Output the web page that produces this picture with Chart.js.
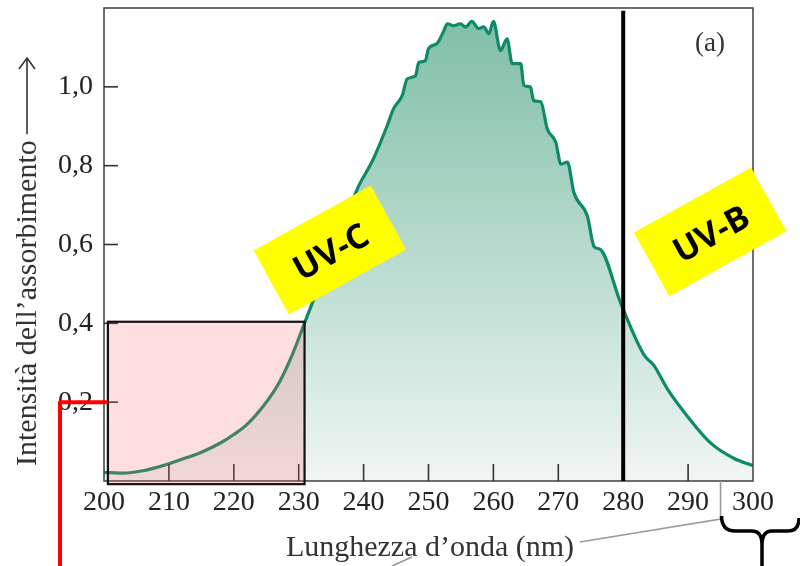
<!DOCTYPE html>
<html><head><meta charset="utf-8">
<script src="https://cdn.jsdelivr.net/npm/chart.js@4.4.0/dist/chart.umd.min.js"></script>
<style>html,body{margin:0;padding:0;background:#fff;}#c{display:block;}</style>
</head><body>
<canvas id="c" width="800" height="566"></canvas>
<script>
// ---- data ----
const wavelengths = [200,203,206,208,210,212,215,218,220,222,225,227,229,231,233,235,237,239,241.5,243.6,244.6,246.0,246.7,248.0,248.5,249.5,250.0,251.3,252.3,252.9,253.9,254.9,255.7,256.7,257.7,258.5,259.3,260.0,261.1,262.1,262.9,264.2,264.7,265.7,266.2,267.3,268.3,269.6,270.4,271.4,272.4,274.5,275.5,276.5,279.6,283.2,284.7,286.9,290.0,293.5,297.1,300];
const absorbance = [0.022,0.020,0.026,0.034,0.044,0.055,0.073,0.097,0.118,0.143,0.200,0.250,0.320,0.405,0.490,0.575,0.655,0.740,0.817,0.900,0.944,0.980,1.020,1.028,1.062,1.066,1.097,1.110,1.140,1.160,1.155,1.160,1.152,1.166,1.148,1.152,1.135,1.166,1.092,1.122,1.059,1.059,1.003,1.000,0.965,0.962,0.893,0.860,0.804,0.809,0.732,0.671,0.595,0.587,0.452,0.320,0.294,0.231,0.162,0.096,0.057,0.039];
const xTicks = [200,210,220,230,240,250,260,270,280,290,300];
const yTicks = [0.2,0.4,0.6,0.8,1.0];
const xTitle = 'Lunghezza d’onda (nm)';
const yTitle = 'Intensità dell’assorbimento';
const panelLabel = '(a)';
const bandLabels = ['UV-C','UV-B'];
const boundaryNm = 280;           // UV-C / UV-B boundary
const highlightNm = [200.6, 230.9];
const highlightVal = [-0.008, 0.404];
const markedValue = 0.2;
const braceNm = 295;

const serif = '"Liberation Serif", "DejaVu Serif", serif';

const deco = {
  id: 'deco',
  afterDraw(chart) {
    const ctx = chart.ctx, a = chart.chartArea;
    const xs = chart.scales.x, ys = chart.scales.y;
    ctx.save();
    // frame
    ctx.strokeStyle = '#4a4a4a'; ctx.lineWidth = 1.6;
    ctx.strokeRect(a.left, a.top, a.right - a.left, a.bottom - a.top);
    // inward ticks
    ctx.strokeStyle = '#333'; ctx.lineWidth = 1.6;
    xTicks.forEach(v => {
      if (v === xTicks[0] || v === xTicks[xTicks.length-1]) return;
      const px = xs.getPixelForValue(v);
      ctx.beginPath(); ctx.moveTo(px, a.bottom); ctx.lineTo(px, a.bottom - 17); ctx.stroke();
    });
    yTicks.forEach(v => {
      const py = ys.getPixelForValue(v);
      ctx.beginPath(); ctx.moveTo(a.left, py); ctx.lineTo(a.left + 14, py); ctx.stroke();
    });
    // pink highlight box
    const bx0 = xs.getPixelForValue(highlightNm[0]), bx1 = xs.getPixelForValue(highlightNm[1]);
    const by0 = ys.getPixelForValue(highlightVal[0]), by1 = ys.getPixelForValue(highlightVal[1]);
    ctx.fillStyle = 'rgba(250,110,110,0.22)';
    ctx.fillRect(bx0, by1, bx1 - bx0, by0 - by1);
    ctx.strokeStyle = '#111'; ctx.lineWidth = 2.2;
    ctx.strokeRect(bx0, by1, bx1 - bx0, by0 - by1);
    // boundary line at 280
    const lx = xs.getPixelForValue(boundaryNm);
    ctx.strokeStyle = '#000'; ctx.lineWidth = 4;
    ctx.beginPath(); ctx.moveTo(lx, ys.getPixelForValue(1.193)); ctx.lineTo(lx, a.bottom); ctx.stroke();
    // band labels
    const bands = [
      {t: bandLabels[0], nm: 234.8, v: 0.586},
      {t: bandLabels[1], nm: 293.4, v: 0.632}
    ];
    bands.forEach(b => {
      ctx.save();
      ctx.translate(xs.getPixelForValue(b.nm), ys.getPixelForValue(b.v));
      ctx.rotate(-29 * Math.PI / 180);
      ctx.fillStyle = '#ffff00';
      ctx.fillRect(-67, -36.5, 134, 73);
      ctx.fillStyle = '#000';
      ctx.font = 'bold 34px "Open Sans", "Liberation Sans", sans-serif';
      ctx.textAlign = 'center'; ctx.textBaseline = 'middle';
      ctx.fillText(b.t, 0, 4);
      ctx.restore();
    });
    // panel label
    ctx.fillStyle = '#333';
    ctx.font = '27px ' + serif;
    ctx.textAlign = 'center'; ctx.textBaseline = 'middle';
    ctx.fillText(panelLabel, 710, 44);
    // y title with arrow
    ctx.save();
    ctx.translate(36, 466);
    ctx.rotate(-Math.PI / 2);
    ctx.font = '30px ' + serif;
    ctx.fillStyle = '#333';
    ctx.textAlign = 'left'; ctx.textBaseline = 'alphabetic';
    ctx.fillText(yTitle, 0, 0);
    const tw = ctx.measureText(yTitle).width;
    const tip = 466 - 58;
    ctx.strokeStyle = '#333'; ctx.lineWidth = 1.6;
    ctx.beginPath(); ctx.moveTo(tw + 6, -9); ctx.lineTo(tip, -9); ctx.stroke();
    ctx.beginPath(); ctx.moveTo(tip - 11, -17); ctx.lineTo(tip, -9); ctx.lineTo(tip - 11, -1); ctx.stroke();
    ctx.restore();
    // x title
    ctx.font = '30px ' + serif;
    ctx.fillStyle = '#333';
    ctx.textAlign = 'center'; ctx.textBaseline = 'alphabetic';
    ctx.fillText(xTitle, 430, 556);
    // gray leader lines
    const bxp = xs.getPixelForValue(braceNm);
    ctx.strokeStyle = '#999'; ctx.lineWidth = 1.6;
    ctx.beginPath(); ctx.moveTo(580, 542); ctx.lineTo(bxp, 519); ctx.lineTo(bxp, a.bottom); ctx.stroke();
    ctx.beginPath(); ctx.moveTo(392, 566); ctx.lineTo(412, 557); ctx.stroke();
    // brace
    ctx.strokeStyle = '#000'; ctx.lineWidth = 3.5; ctx.lineJoin = 'round';
    ctx.beginPath();
    ctx.moveTo(bxp + 1, 516);
    ctx.quadraticCurveTo(bxp + 1, 531, bxp + 15, 531);
    ctx.lineTo(752, 531);
    ctx.quadraticCurveTo(762, 531, 762, 545);
    ctx.lineTo(762, 566);
    ctx.moveTo(762, 545);
    ctx.quadraticCurveTo(762, 531, 772, 531);
    ctx.lineTo(788, 531);
    ctx.quadraticCurveTo(799, 531, 799, 518);
    ctx.stroke();
    // red marker line
    const ry = ys.getPixelForValue(markedValue);
    ctx.strokeStyle = '#ff0000'; ctx.lineWidth = 4; ctx.lineCap = 'butt';
    ctx.beginPath(); ctx.moveTo(a.left + 4, ry); ctx.lineTo(60, ry); ctx.lineTo(60, 566); ctx.stroke();
    ctx.restore();
  }
};

new Chart(document.getElementById('c'), {
  type: 'line',
  data: {
    datasets: [{
      data: wavelengths.map((w, i) => ({x: w, y: absorbance[i]})),
      borderColor: '#0e8a68',
      borderWidth: 3.2,
      pointRadius: 0,
      cubicInterpolationMode: 'monotone',
      fill: 'origin',
      backgroundColor: (c) => {
        const a = c.chart.chartArea;
        if (!a) return 'rgba(0,0,0,0)';
        const g = c.chart.ctx.createLinearGradient(0, a.top + 15, 0, a.bottom);
        g.addColorStop(0, '#80bfa8');
        g.addColorStop(1, '#eff6f3');
        return g;
      }
    }]
  },
  options: {
    responsive: false,
    animation: false,
    devicePixelRatio: 1,
    layout: {padding: {top: 8, right: 47, left: 0, bottom: 0}},
    plugins: {legend: {display: false}, tooltip: {enabled: false}},
    scales: {
      x: {
        type: 'linear', min: 200, max: 300,
        afterBuildTicks: s => { s.ticks = xTicks.map(v => ({value: v})); },
        afterFit: s => { s.height = 85; s.paddingLeft = 0; s.paddingRight = 0; },
        grid: {display: false, drawTicks: false},
        border: {display: false},
        ticks: {padding: 5, color: '#222', font: {family: serif, size: 28}, maxRotation: 0, autoSkip: false,
          callback: v => String(v)}
      },
      y: {
        min: 0, max: 1.2,
        afterBuildTicks: s => { s.ticks = yTicks.map(v => ({value: v})); },
        afterFit: s => { s.width = 104; s.paddingTop = 0; s.paddingBottom = 0; },
        grid: {display: false, drawTicks: false},
        border: {display: false},
        ticks: {padding: 11, color: '#222', font: {family: serif, size: 28},
          callback: v => v.toFixed(1).replace('.', ',')}
      }
    }
  },
  plugins: [deco]
});
</script>
</body></html>
